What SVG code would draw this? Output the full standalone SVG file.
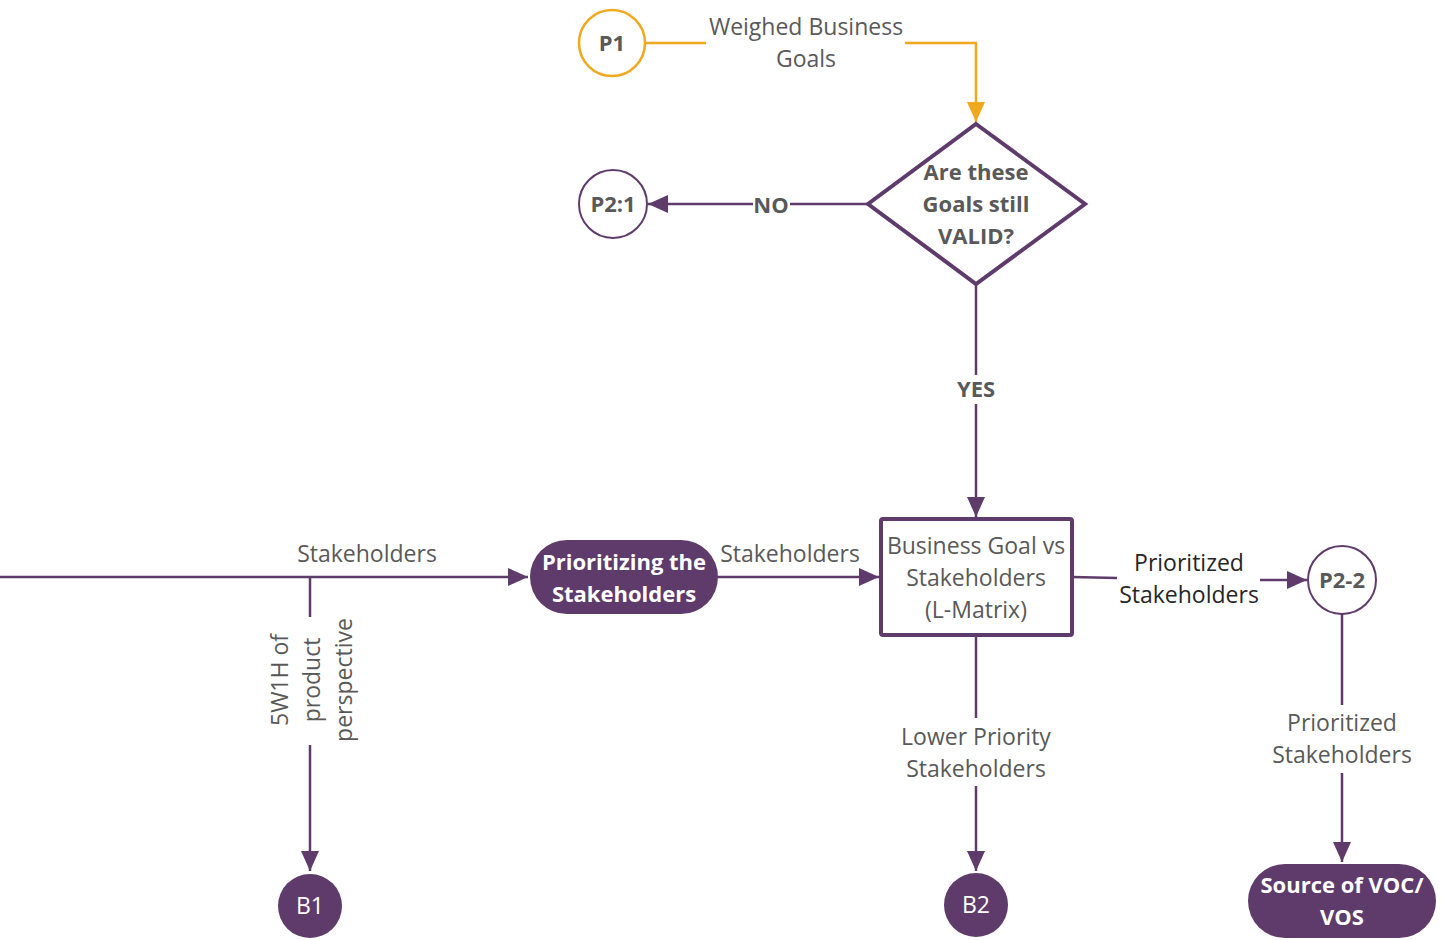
<svg xmlns="http://www.w3.org/2000/svg" width="1442" height="940" viewBox="0 0 1442 940">
  <defs>
    <style>
      .lbl { font-family: "Open Sans", "Liberation Sans", sans-serif; font-size: 23px; fill: #595959; text-anchor: middle; }
      .dark { fill: #262626; }
      .bold { font-weight: bold; font-size: 22px; }
      .white { fill: #ffffff; }
      .wire { fill: none; stroke: #5e3b6b; stroke-width: 2.5; }
      .wire-o { fill: none; stroke: #f0a81e; stroke-width: 2.5; }
      .ring { fill: #ffffff; stroke: #5e3b6b; stroke-width: 2; }
      .fillp { fill: #5e3b6b; }
    </style>
    <marker id="arrP" viewBox="0 0 20 18" refX="20" refY="9" markerWidth="20" markerHeight="18" markerUnits="userSpaceOnUse" orient="auto">
      <path d="M0,0 L20,9 L0,18 z" fill="#5e3b6b"/>
    </marker>
    <marker id="arrO" viewBox="0 0 20 18" refX="20" refY="9" markerWidth="20" markerHeight="18" markerUnits="userSpaceOnUse" orient="auto">
      <path d="M0,0 L20,9 L0,18 z" fill="#f0a81e"/>
    </marker>
  </defs>
  <rect width="1442" height="940" fill="#ffffff"/>

  <!-- connectors -->
  <g id="connectors">
    <path class="wire-o" d="M646,43 H706"/>
    <path class="wire-o" d="M905,43 H976 V122" marker-end="url(#arrO)"/>
    <path class="wire" d="M868,204 H790"/>
    <path class="wire" d="M753,204 H648" marker-end="url(#arrP)"/>
    <path class="wire" d="M976,284 V375"/>
    <path class="wire" d="M976,404 V517" marker-end="url(#arrP)"/>
    <path class="wire" d="M0,577 H528" marker-end="url(#arrP)"/>
    <path class="wire" d="M310,577 V617"/>
    <path class="wire" d="M310,745 V871" marker-end="url(#arrP)"/>
    <path class="wire" d="M718,577 H879" marker-end="url(#arrP)"/>
    <path class="wire" d="M1072,577 L1117,578"/>
    <path class="wire" d="M1260,580 H1307" marker-end="url(#arrP)"/>
    <path class="wire" d="M1342,614 V705"/>
    <path class="wire" d="M1342,773 V862" marker-end="url(#arrP)"/>
    <path class="wire" d="M976,635 V718"/>
    <path class="wire" d="M976,786 V871" marker-end="url(#arrP)"/>

    <text class="lbl" x="806" y="35">Weighed Business</text>
    <text class="lbl" x="806" y="67">Goals</text>
    <text class="lbl bold" x="771" y="213">NO</text>
    <text class="lbl bold" x="976" y="397">YES</text>
    <text class="lbl" x="367" y="562">Stakeholders</text>
    <text class="lbl" x="790" y="562">Stakeholders</text>
    <text class="lbl dark" x="1189" y="571">Prioritized</text>
    <text class="lbl dark" x="1189" y="603">Stakeholders</text>
    <text class="lbl" x="1342" y="731">Prioritized</text>
    <text class="lbl" x="1342" y="763">Stakeholders</text>
    <text class="lbl" x="976" y="745">Lower Priority</text>
    <text class="lbl" x="976" y="777">Stakeholders</text>
    <g transform="translate(315,680) rotate(-90)">
      <text class="lbl" x="0" y="-27">5W1H of</text>
      <text class="lbl" x="0" y="5">product</text>
      <text class="lbl" x="0" y="37">perspective</text>
    </g>
  </g>

  <g id="p1">
    <circle cx="612" cy="43" r="33" fill="#ffffff" stroke="#f0a81e" stroke-width="2.5"/>
    <text class="lbl bold" x="612" y="51">P1</text>
  </g>

  <g id="decision">
    <path d="M976,124 L1085,204 L976,284 L868,204 Z" fill="#ffffff" stroke="#5e3b6b" stroke-width="4" stroke-linejoin="miter"/>
    <text class="lbl bold" x="976" y="180">Are these</text>
    <text class="lbl bold" x="976" y="212">Goals still</text>
    <text class="lbl bold" x="976" y="244">VALID?</text>
  </g>

  <g id="p2-1">
    <circle class="ring" cx="613" cy="204" r="34"/>
    <text class="lbl bold" x="613" y="212">P2:1</text>
  </g>

  <g id="prioritizing">
    <rect class="fillp" x="530" y="540" width="188" height="74" rx="37"/>
    <text class="lbl bold white" x="624" y="570">Prioritizing the</text>
    <text class="lbl bold white" x="624" y="602">Stakeholders</text>
  </g>

  <g id="lmatrix">
    <rect x="881" y="519" width="191" height="116" rx="2" fill="#ffffff" stroke="#5e3b6b" stroke-width="4"/>
    <text class="lbl" x="976" y="554">Business Goal vs</text>
    <text class="lbl" x="976" y="586">Stakeholders</text>
    <text class="lbl" x="976" y="618">(L-Matrix)</text>
  </g>

  <g id="p2-2">
    <circle class="ring" cx="1342" cy="580" r="34"/>
    <text class="lbl bold" x="1342" y="588">P2-2</text>
  </g>

  <g id="source-voc">
    <rect class="fillp" x="1248" y="864" width="188" height="74" rx="37"/>
    <text class="lbl bold white" x="1342" y="893">Source of VOC/</text>
    <text class="lbl bold white" x="1342" y="925">VOS</text>
  </g>

  <g id="b1">
    <circle class="fillp" cx="310" cy="906" r="32"/>
    <text class="lbl white" x="310" y="914">B1</text>
  </g>

  <g id="b2">
    <circle class="fillp" cx="976" cy="905" r="32"/>
    <text class="lbl white" x="976" y="913">B2</text>
  </g>
</svg>
